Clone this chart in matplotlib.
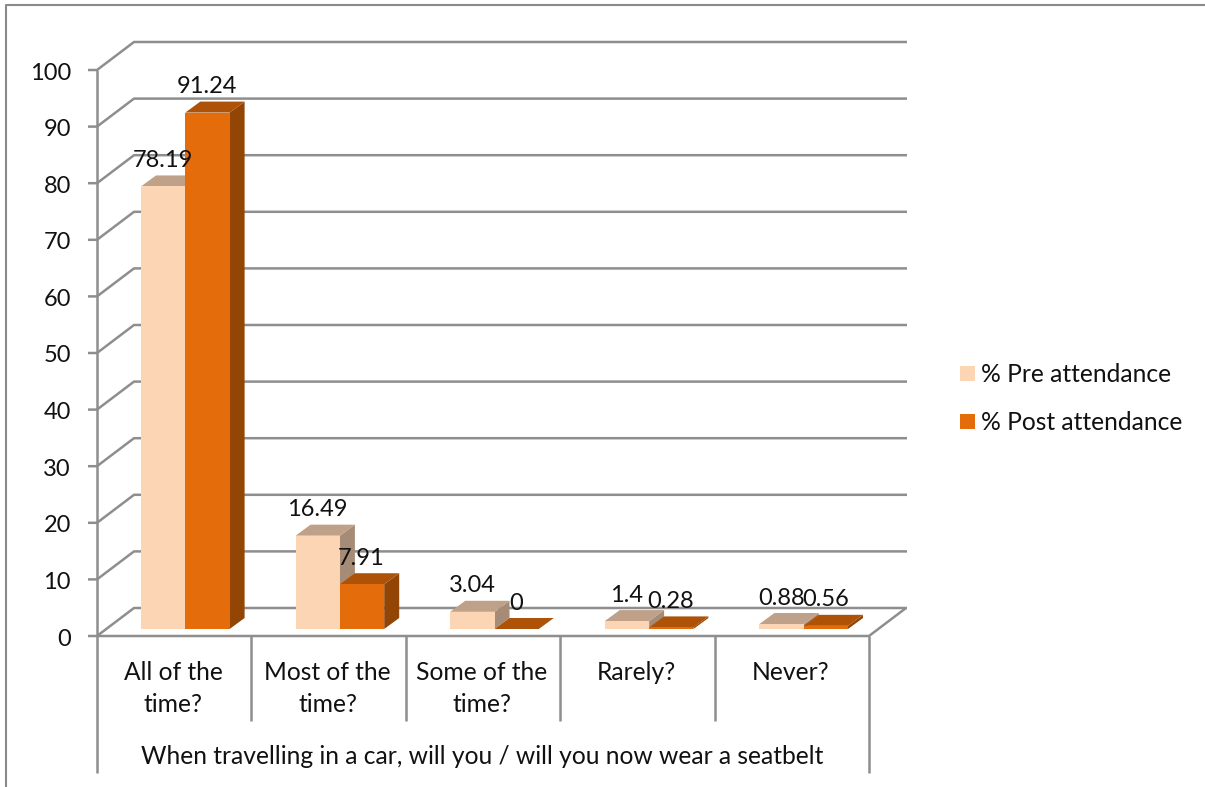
import matplotlib
matplotlib.use('Agg')
import matplotlib.pyplot as plt
from matplotlib.patches import Polygon, Rectangle

plt.rcParams['font.family'] = ['Lato', 'DejaVu Sans']

# data
categories = ['All of the\ntime?', 'Most of the\ntime?', 'Some of the\ntime?', 'Rarely?', 'Never?']
group_label = 'When travelling in a car, will you / will you now wear a seatbelt'
pre_attendance = [78.19, 16.49, 3.04, 1.4, 0.88]
post_attendance = [91.24, 7.91, 0, 0.28, 0.56]
y_ticks = [0, 10, 20, 30, 40, 50, 60, 70, 80, 90, 100]
legend_labels = ['% Pre attendance', '% Post attendance']

GRID = '#8e8e8e'
TEXT = '#111111'
FS = 17
FS_WORDS = 17.7
PRE = ('#fcd5b5', '#bfa088', '#a68c77')
POST = ('#e46c0a', '#ad5207', '#934506')

# pixel layout of the fake 3d chart
LEFT, RIGHT = 97, 869
Y0, PX_PER_UNIT = 636, 5.66
BACK_DX, BACK_DY = 37, 28
BASE = 629
BAR_W = 44.3
BAR_START = 141
STEP = 154.6
DEPTH_X, DEPTH_Y = 15, 11

fig = plt.figure(figsize=(12.05, 7.87), dpi=100)
ax = fig.add_axes([0, 0, 1, 1])
ax.set_xlim(0, 1205)
ax.set_ylim(787, 0)
ax.axis('off')


def line(xs, ys, lw=1.8, color=GRID, z=1):
    ax.plot(xs, ys, color=color, lw=lw, solid_capstyle='butt', zorder=z)


# outer frame of the chart object
line([6, 6, 1205], [787, 5, 5], lw=1.5, color='#8a8a8a')

# walls and gridlines
for t in y_ticks:
    y = Y0 - t * PX_PER_UNIT
    line([LEFT - 9, LEFT, LEFT + BACK_DX, RIGHT + BACK_DX + 1], [y, y, y - BACK_DY, y - BACK_DY])
    ax.text(LEFT - 26, y + 1, str(t), ha='right', va='center_baseline', fontsize=FS, color=TEXT)
line([LEFT, LEFT], [Y0 - 100 * PX_PER_UNIT, 773])
line([LEFT, RIGHT, RIGHT + BACK_DX], [Y0, Y0, Y0 - BACK_DY])
line([RIGHT, RIGHT], [Y0, 773])

# category dividers
cat_w = (RIGHT - LEFT) / len(categories)
for i in range(1, len(categories)):
    x = LEFT + i * cat_w
    line([x, x], [Y0, 721])

# category labels are top aligned, one line labels stay on the first row
for i, cat in enumerate(categories):
    cx = LEFT + (i + 0.5) * cat_w - 1
    for n, part in enumerate(cat.split('\n')):
        ax.text(cx, 671 + n * 32, part, ha='center', va='center_baseline', fontsize=FS_WORDS, color=TEXT)
ax.text((LEFT + RIGHT) / 2 - 1, 755, group_label, ha='center', va='center_baseline', fontsize=FS_WORDS, color=TEXT)


def bar(x, value, cols, z):
    top = BASE - value * PX_PER_UNIT
    dx, dy = DEPTH_X, DEPTH_Y
    ax.add_patch(Polygon([(x + BAR_W, BASE), (x + BAR_W + dx, BASE - dy), (x + BAR_W + dx, top - dy), (x + BAR_W, top)],
                         fc=cols[2], ec='none', zorder=z))
    ax.add_patch(Polygon([(x, top), (x + dx, top - dy), (x + BAR_W + dx, top - dy), (x + BAR_W, top)],
                         fc=cols[1], ec='none', zorder=z))
    ax.add_patch(Rectangle((x, top), BAR_W, value * PX_PER_UNIT, fc=cols[0], ec='none', zorder=z))


for i in range(len(categories)):
    x = BAR_START + i * STEP
    bar(x, pre_attendance[i], PRE, 3 + i)
    bar(x + BAR_W, post_attendance[i], POST, 3.5 + i)

# value labels sit a fixed distance above each bar
for i in range(len(categories)):
    x = BAR_START + i * STEP
    for vals, off in [(pre_attendance, 22), (post_attendance, 66)]:
        v = vals[i]
        y = BASE - v * PX_PER_UNIT - 28
        ax.text(x + off, y, f'{v:g}', ha='center', va='center_baseline', fontsize=FS, color=TEXT, zorder=20)

# legend
for k, (lab, col) in enumerate(zip(legend_labels, [PRE[0], POST[0]])):
    y = 374 + k * 48
    ax.add_patch(Rectangle((960, y - 8), 15, 15, fc=col, ec='none'))
    ax.text(981, y - 1, lab, ha='left', va='center_baseline', fontsize=FS_WORDS, color=TEXT)

fig.savefig('out.png', dpi=100)
